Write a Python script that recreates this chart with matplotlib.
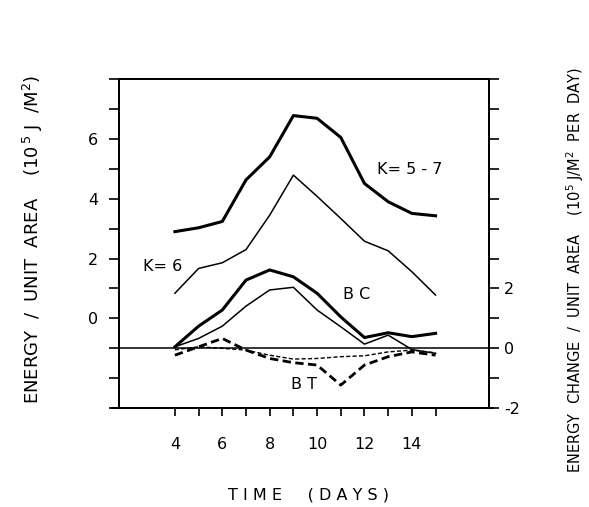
import matplotlib.pyplot as plt
import numpy as np

# days
days = [4, 5, 6, 7, 8, 9, 10, 11, 12, 13, 14, 15]

# energy per unit area (left axis, 10^5 J/m^2)
k57 = [2.90, 3.03, 3.24, 4.63, 5.40, 6.78, 6.69, 6.05, 4.51, 3.90, 3.51, 3.43]
k6 = [0.84, 1.67, 1.86, 2.30, 3.45, 4.79, 4.08, 3.34, 2.58, 2.26, 1.56, 0.78]

# energy change per unit area (right axis, 10^5 J/m^2 per day)
bc_k57 = [0.05, 0.74, 1.28, 2.28, 2.62, 2.39, 1.84, 1.05, 0.36, 0.52, 0.39, 0.50]
bc_k6 = [0.05, 0.33, 0.74, 1.41, 1.95, 2.04, 1.28, 0.72, 0.14, 0.44, -0.04, -0.17]
bt_k57 = [-0.23, 0.05, 0.33, -0.06, -0.34, -0.48, -0.56, -1.23, -0.56, -0.28, -0.12, -0.23]
bt_k6 = [-0.05, 0.05, 0.00, -0.06, -0.23, -0.36, -0.34, -0.28, -0.25, -0.12, -0.06, -0.15]

left_ticks = list(range(-3, 9))
left_labels = ['0', '2', '4', '6']
right_ticks = list(range(-2, 10))
right_labels = ['-2', '0', '2']
x_labels = [4, 6, 8, 10, 12, 14]

plt.rcParams['font.family'] = 'DejaVu Sans'

fig = plt.figure(figsize=(5.89, 5.07), dpi=100)
ax = fig.add_axes([0.202, 0.195, 0.628, 0.649])
ax2 = ax.twinx()

ax.set_xlim(1.64, 17.25)
ax.set_ylim(-3, 8)
ax2.set_ylim(-2, 9)

# energy curves
ax.plot(days, k57, color='black', lw=2.2, solid_joinstyle='round')
ax.plot(days, k6, color='black', lw=1.1)

# energy change curves
ax2.plot(days, bc_k57, color='black', lw=2.2, solid_joinstyle='round')
ax2.plot(days, bc_k6, color='black', lw=1.1)
ax2.plot(days, bt_k57, color='black', lw=2.0, dashes=(3, 1.6))
ax2.plot(days, bt_k6, color='black', lw=1.0, dashes=(3, 1.6))
ax2.axhline(0, color='black', lw=1.1)

# ticks
ax.set_yticks(left_ticks)
ax.set_yticklabels([str(t) if str(t) in left_labels else '' for t in left_ticks])
ax2.set_yticks(right_ticks)
ax2.set_yticklabels([str(t) if str(t) in right_labels else '' for t in right_ticks])
ax.set_xticks(days)
ax.set_xticklabels([str(d) if d in x_labels else '' for d in days])

ax.tick_params(axis='y', direction='out', length=7, width=1.2, labelsize=11.5, pad=8)
ax2.tick_params(axis='y', direction='out', length=7, width=1.2, labelsize=11.5, pad=4)
ax.tick_params(axis='x', direction='out', length=6, width=1.2, labelsize=11.5, pad=15)

for a in (ax, ax2):
    for s in a.spines.values():
        s.set_linewidth(1.4)

# bottom line runs a bit past the frame
ax.plot([-0.02, 1.01], [0, 0], transform=ax.transAxes, color='black', lw=1.4, clip_on=False)

# curve labels
ax.text(13.9, 4.99, 'K= 5 - 7', fontsize=11.5, ha='center', va='center')
ax.text(3.49, 1.75, 'K= 6', fontsize=11.5, ha='center', va='center')
ax.text(11.68, 0.81, 'B C', fontsize=11.5, ha='center', va='center')
ax.text(9.44, -2.2, 'B T', fontsize=11.5, ha='center', va='center')

# axis titles
fig.text(0.056, 0.527, r'ENERGY  /  UNIT  AREA    (10$^{\,5}$ J  /M$^2$)', rotation=90,
         ha='center', va='center', fontsize=13)
fig.text(0.976, 0.467, r'ENERGY  CHANGE  /  UNIT  AREA    (10$^5$ J/M$^2$  PER  DAY)',
         rotation=90, ha='center', va='center', fontsize=10.5)
fig.text(0.523, 0.024, 'T I M E     ( D A Y S )', ha='center', va='center', fontsize=11.5)

fig.savefig('out.png', dpi=100)
